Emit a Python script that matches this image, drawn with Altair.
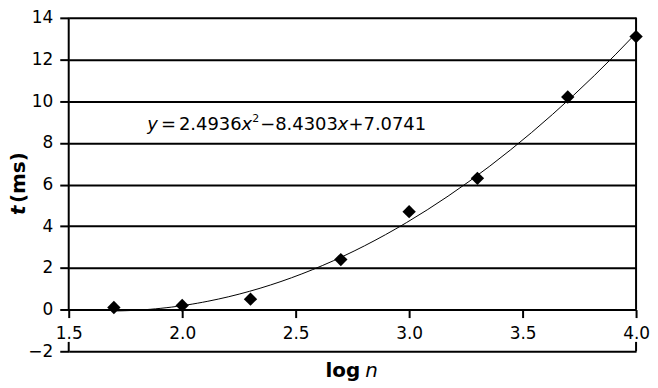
import altair as alt
import pandas as pd

# ---- data ----
log_n = [1.699, 2.0, 2.301, 2.699, 3.0, 3.301, 3.699, 4.0]
t_ms = [0.1, 0.2, 0.5, 2.4, 4.7, 6.3, 10.2, 13.1]
x_ticks = [1.5, 2.0, 2.5, 3.0, 3.5, 4.0]
y_ticks = [-2, 0, 2, 4, 6, 8, 10, 12, 14]
# equation text pieces: (text, kind)
eq_parts = [("y", "it"), ("=", "n"), ("2.4936", "n"), ("x", "it"), ("2", "sup"),
            ("\u2212", "n"), ("8.4303", "n"), ("x", "it"), ("+", "n"), ("7.0741", "n")]

df = pd.DataFrame({"logn": log_n, "t": t_ms})
one = pd.DataFrame({"k": [0]})

W, H = 570, 335
FONT = "DejaVu Sans"
TOP = 17   # page y of plot top
LEFT = 69  # page x of plot left

xs = alt.Scale(domain=[x_ticks[0], x_ticks[-1]], nice=False, zero=False)
ys = alt.Scale(domain=[y_ticks[0], y_ticks[-1]], nice=False, zero=False)

x_axis = alt.Axis(values=x_ticks, format=".1f", title=None, grid=False,
                  offset=-H * 2 / 16, domainColor="black", domainWidth=2,
                  tickColor="black", tickWidth=2, tickSize=8,
                  labelFont=FONT, labelFontSize=17, labelColor="black",
                  labelPadding=8, labelFlush=False, zindex=1)
y_axis = alt.Axis(values=y_ticks, title=None, grid=True, gridColor="black",
                  gridWidth=2, gridOpacity=1, domain=False,
                  tickColor="black", tickWidth=2, tickSize=9,
                  labelFont=FONT, labelFontSize=17, labelColor="black",
                  labelPadding=7,
                  labelExpr="datum.value < 0 ? '\u2212' + abs(datum.value) : datum.label")

points = alt.Chart(df).mark_point(shape="diamond", filled=True, color="black",
                                  size=180, opacity=1).encode(
    x=alt.X("logn:Q", scale=xs, axis=x_axis),
    y=alt.Y("t:Q", scale=ys, axis=y_axis),
)

trend = alt.Chart(df).transform_regression(
    "logn", "t", method="poly", order=2
).mark_line(color="black", strokeWidth=1).encode(
    x=alt.X("logn:Q", scale=xs),
    y=alt.Y("t:Q", scale=ys),
)

def vrule(xv, y1, y2):
    return alt.Chart(one).mark_rule(color="black", strokeWidth=2).encode(
        x=alt.datum(xv), y=alt.datum(y1), y2=alt.datum(y2))

frame = [vrule(x_ticks[0], 0, y_ticks[-1]), vrule(x_ticks[0], y_ticks[0], -1.55),
         vrule(x_ticks[-1], 0, y_ticks[-1]), vrule(x_ticks[-1], y_ticks[0], -1.55)]

def txt(s, px, py, size=18, style="normal", weight="normal", angle=0, align="left",
        baseline="alphabetic"):
    return alt.Chart(one).mark_text(font=FONT, fontSize=size, fontStyle=style,
                                    fontWeight=weight, angle=angle, align=align,
                                    baseline=baseline, color="black").encode(
        x=alt.value(px - LEFT), y=alt.value(py - TOP), text=alt.value(s))

# DejaVu Sans advance widths (em) for laying out the equation pieces
ADV = {"y": 0.592, "x": 0.592, "=": 0.838, "+": 0.838, "\u2212": 0.838, ".": 0.318}
def width(s, size):
    return sum(ADV.get(c, 0.636) for c in s) * size

EQ_SIZE, SUP_SIZE = 18, 11
EQ_BASE = 130
eq_layers = []
cx = 148.0
for i, (s, kind) in enumerate(eq_parts):
    if i > 0 and eq_parts[i - 1][0] == "=":
        cx += 3
    if s == "=":
        cx += 3
    if kind == "sup":
        eq_layers.append(txt(s, cx, EQ_BASE - 8, size=SUP_SIZE))
        cx += width(s, SUP_SIZE) + 1
    elif kind == "it":
        eq_layers.append(txt(s, cx, EQ_BASE, size=EQ_SIZE, style="italic"))
        cx += width(s, EQ_SIZE)
    else:
        eq_layers.append(txt(s, cx, EQ_BASE, size=EQ_SIZE))
        cx += width(s, EQ_SIZE)

titles = [
    txt("log", 327, 378, size=20, weight="bold"),
    txt("n", 367, 378, size=20, style="italic"),
    txt("t", 19, 215, size=20, style="italic", weight="bold", angle=270,
        baseline="middle"),
    txt("(ms)", 19, 203, size=20, weight="bold", angle=270, baseline="middle"),
]

chart = alt.layer(*frame, trend, points, *eq_layers, *titles).properties(
    width=W, height=H,
    autosize=alt.AutoSizeParams(type="none"),
    padding={"left": LEFT - 8, "top": TOP - 8, "right": 14,
             "bottom": 388 - 8 - (TOP - 8) - H},
    background="white",
).configure_view(stroke=None)

chart.save("out.html", embed_options={"renderer": "svg", "actions": False})
